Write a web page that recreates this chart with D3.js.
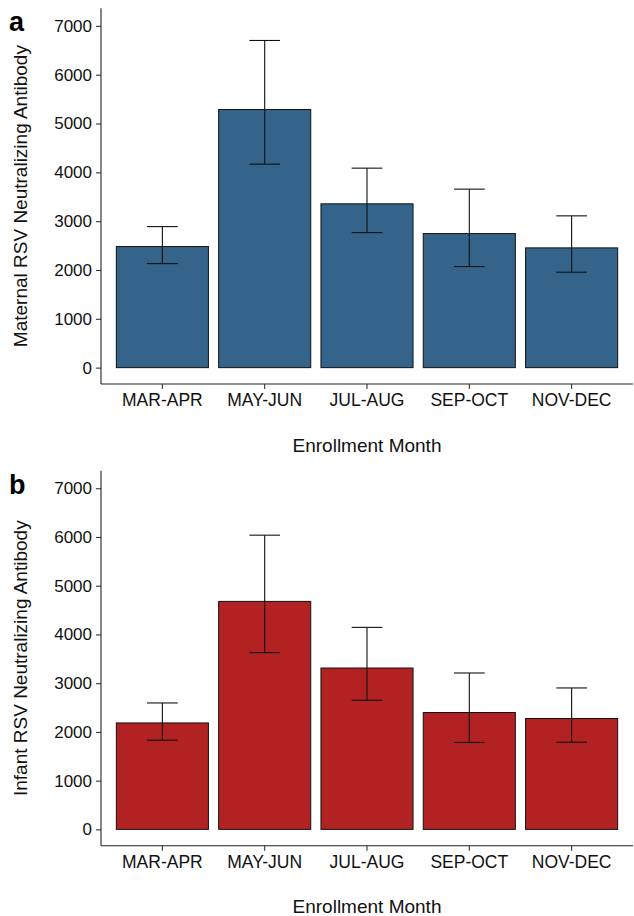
<!DOCTYPE html>
<html>
<head>
<meta charset="utf-8">
<script src="https://cdn.jsdelivr.net/npm/d3@7"></script>
<style>
  html, body { margin: 0; padding: 0; background: #fff; }
  svg { display: block; }
  text { font-family: "Liberation Sans", Arial, sans-serif; }
</style>
</head>
<body>
<svg id="chart" width="634" height="916"></svg>
<script>
// ---- data ----
const categories = ["MAR-APR", "MAY-JUN", "JUL-AUG", "SEP-OCT", "NOV-DEC"];
const maternalMean  = [2480, 5287, 3355, 2746, 2453];
const maternalLower = [2131, 4168, 2766, 2070, 1955];
const maternalUpper = [2889, 6701, 4086, 3656, 3109];
const infantMean  = [2184, 4678, 3311, 2398, 2275];
const infantLower = [1830, 3627, 2650, 1783, 1789];
const infantUpper = [2594, 6037, 4145, 3209, 2902];
const yTicks = [0, 1000, 2000, 3000, 4000, 5000, 6000, 7000];
const yDomain = [-335, 7360];

const panels = [
  { label: "a", title: "Maternal RSV Neutralizing Antibody", mean: maternalMean, lower: maternalLower, upper: maternalUpper, fill: "#35648B", top: 8.3, bottom: 384 },
  { label: "b", title: "Infant RSV Neutralizing Antibody", mean: infantMean, lower: infantLower, upper: infantUpper, fill: "#B22222", top: 470.7, bottom: 845.7 }
];

const svg = d3.select("#chart");
const left = 101, right = 633;
const textCol = "#111";

panels.forEach(p => {
  const g = svg.append("g");
  const x = d3.scaleBand().domain(categories).range([left, right]).paddingInner(0.1).paddingOuter(0.15);
  const step = x.step();
  const y = d3.scaleLinear().domain(yDomain).range([p.bottom, p.top]);
  const rows = categories.map((c, i) => ({ c, m: p.mean[i], lo: p.lower[i], hi: p.upper[i] }));

  // bars
  g.selectAll("rect.bar").data(rows).join("rect")
    .attr("class", "bar")
    .attr("x", d => x(d.c))
    .attr("width", x.bandwidth())
    .attr("y", d => y(d.m))
    .attr("height", d => y(0) - y(d.m))
    .attr("fill", p.fill)
    .attr("stroke", "#111")
    .attr("stroke-width", 1);

  // error bars
  const capW = step * 0.3;
  const eb = g.selectAll("g.eb").data(rows).join("g").attr("class", "eb")
    .attr("stroke", "#111").attr("stroke-width", 1.1).attr("fill", "none");
  eb.append("line")
    .attr("x1", d => x(d.c) + x.bandwidth() / 2).attr("x2", d => x(d.c) + x.bandwidth() / 2)
    .attr("y1", d => y(d.lo)).attr("y2", d => y(d.hi));
  eb.append("line")
    .attr("x1", d => x(d.c) + x.bandwidth() / 2 - capW / 2).attr("x2", d => x(d.c) + x.bandwidth() / 2 + capW / 2)
    .attr("y1", d => y(d.hi)).attr("y2", d => y(d.hi));
  eb.append("line")
    .attr("x1", d => x(d.c) + x.bandwidth() / 2 - capW / 2).attr("x2", d => x(d.c) + x.bandwidth() / 2 + capW / 2)
    .attr("y1", d => y(d.lo)).attr("y2", d => y(d.lo));

  // y axis
  const yAxis = g.append("g").attr("transform", `translate(${left},0)`)
    .call(d3.axisLeft(y).tickValues(yTicks).tickSize(5).tickPadding(4).tickFormat(d3.format("d")));
  yAxis.select(".domain").attr("d", `M0,${p.top}V${p.bottom}`).attr("stroke", "#222").attr("stroke-width", 1.1);
  yAxis.selectAll(".tick line").attr("stroke", "#333").attr("stroke-width", 1.1);
  yAxis.selectAll(".tick text").attr("font-size", "17px").attr("fill", textCol)
    .attr("font-family", "'Liberation Sans', Arial, sans-serif");

  // x axis
  const xAxis = g.append("g").attr("transform", `translate(0,${p.bottom})`)
    .call(d3.axisBottom(x).tickSize(5).tickPadding(5));
  xAxis.select(".domain").attr("d", `M${left},0H${right}`).attr("stroke", "#222").attr("stroke-width", 1.1);
  xAxis.selectAll(".tick line").attr("stroke", "#333").attr("stroke-width", 1.1);
  xAxis.selectAll(".tick text").attr("font-size", "17.5px").attr("fill", textCol)
    .attr("font-family", "'Liberation Sans', Arial, sans-serif");

  // axis titles
  g.append("text")
    .attr("x", (left + right) / 2)
    .attr("y", p.bottom + 67.5)
    .attr("text-anchor", "middle")
    .attr("font-size", "19px")
    .attr("fill", textCol)
    .text("Enrollment Month");

  g.append("text")
    .attr("transform", `translate(27,${(p.top + p.bottom) / 2}) rotate(-90)`)
    .attr("text-anchor", "middle")
    .attr("font-size", "19px")
    .attr("fill", textCol)
    .text(p.title);

  // panel label
  g.append("text")
    .attr("x", 9)
    .attr("y", p.top + 23)
    .attr("font-size", "27px")
    .attr("font-weight", "bold")
    .attr("fill", "#000")
    .text(p.label);
});
</script>
</body>
</html>
